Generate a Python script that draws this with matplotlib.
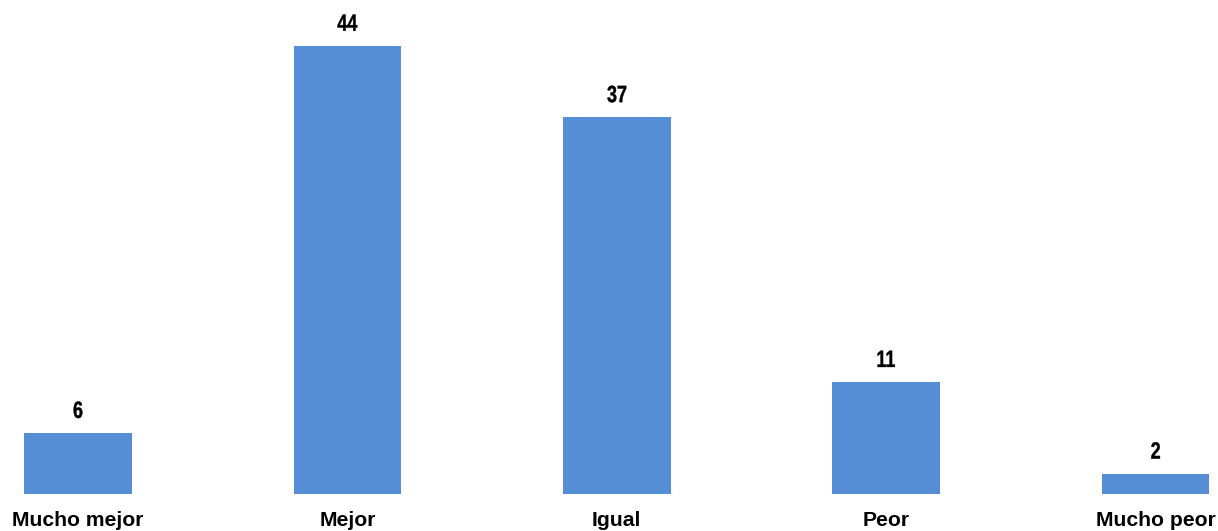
import matplotlib
matplotlib.use("Agg")
import matplotlib.pyplot as plt
from matplotlib.textpath import TextPath
from matplotlib.patches import PathPatch
from matplotlib.font_manager import FontProperties
from matplotlib.transforms import Affine2D, IdentityTransform

categories = ["Mucho mejor", "Mejor", "Igual", "Peor", "Mucho peor"]
values = [6, 44, 37, 11, 2]

bar_color = "#558ED5"
DPI = 100

fig = plt.figure(figsize=(12.18, 5.31), dpi=DPI)
ax = fig.add_axes([0, 0.0697, 1, 0.9303])

x = list(range(len(categories)))
ax.bar(x, values, width=0.4, color=bar_color)

ax.set_xlim(-0.2895, 4.2316)
ax.set_ylim(0, 48.5)
ax.set_xticks(x)
ax.set_xticklabels(categories, fontsize=15.2, fontweight="bold", family="Liberation Sans")
ax.tick_params(axis="x", length=0, pad=12.5)
ax.set_yticks([])
for s in ax.spines.values():
    s.set_visible(False)

# value labels: narrow bold digits (squeezed Liberation Sans bold)
fp = FontProperties(family="Liberation Sans", weight="bold")
size = 17
squeeze = 0.76
for xi, v in zip(x, values):
    tp = TextPath((0, 0), str(v), size=size, prop=fp)
    ext = tp.get_extents()
    px, py = ax.transData.transform((xi, v))
    k = DPI / 72.0
    tr = (Affine2D().translate(-(ext.x0 + ext.x1) / 2, 0)
          .scale(squeeze * k, k)
          .translate(px, py + 15))
    fig.patches.append(PathPatch(tr.transform_path(tp), facecolor="black",
                                 edgecolor="black", linewidth=0.3,
                                 transform=IdentityTransform(), figure=fig))

fig.savefig("out.png", dpi=DPI)
